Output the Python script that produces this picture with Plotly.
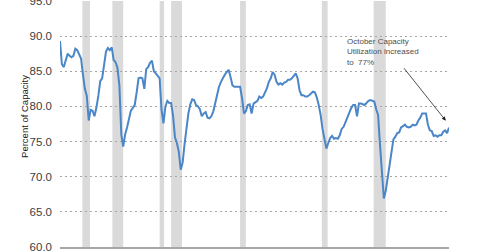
import pandas as pd
import plotly.graph_objects as go

# Quarterly readings (Jan, Apr, Jul, Oct) of capacity utilization, 1967 - Oct 2017
cu_1967_1976 = [
    89.3, 86.0, 85.6, 86.6,
    87.5, 87.2, 87.0, 87.2,
    88.2, 88.0, 87.5, 86.8,
    84.5, 82.5, 81.5, 78.0,
    79.5, 79.4, 78.6, 79.8,
    81.5, 83.6, 84.0, 86.0,
    87.8, 88.3, 88.0, 88.4,
    86.6, 86.3, 85.5, 83.0,
    76.0, 74.3, 76.0, 77.0,
    78.5, 79.4, 79.8, 80.2,
]
cu_1977_1986 = [
    82.0, 84.0, 84.1, 84.0,
    82.5, 85.3, 85.6, 86.2,
    86.5, 85.0, 84.7, 84.3,
    84.0, 79.5, 77.6, 80.0,
    80.8, 80.5, 80.5, 78.7,
    75.6, 74.8, 73.6, 71.0,
    72.0, 74.6, 77.3, 79.0,
    80.3, 81.0, 80.9, 80.2,
    80.0, 79.6, 78.6, 79.0,
    79.2, 78.4, 78.3, 78.6,
]
cu_1987_1996 = [
    79.3, 80.5, 81.6, 82.8,
    83.5, 84.1, 84.5, 84.9,
    85.2, 84.2, 83.0, 82.8,
    82.8, 82.9, 82.8, 81.2,
    79.0, 79.3, 80.2, 80.3,
    79.0, 80.4, 80.6, 80.8,
    81.4, 81.2, 81.4, 82.0,
    82.6, 83.5, 84.0, 84.9,
    84.5, 83.5, 83.1, 83.3,
    83.1, 83.4, 83.5, 83.8,
]
cu_1997_2006 = [
    83.8, 84.0, 84.3, 84.7,
    84.0, 82.3, 81.6, 81.6,
    81.4, 81.4, 81.6, 81.8,
    82.1, 82.0, 81.3, 80.2,
    78.8, 76.8, 75.4, 74.0,
    74.8, 75.5, 75.8, 75.4,
    75.5, 75.4, 75.9, 76.8,
    77.1, 77.8, 78.5, 79.0,
    79.8, 80.2, 80.2, 78.6,
    80.4, 80.4, 80.3, 80.2,
]
cu_2007_2017 = [
    80.5, 80.8, 80.9, 80.8,
    80.7, 79.6, 78.8, 74.5,
    70.3, 66.9, 68.0, 70.0,
    72.0, 74.0, 75.3, 75.7,
    76.2, 76.3, 77.0, 77.2,
    77.4, 77.1, 77.0, 77.1,
    77.4, 77.3, 77.4, 78.0,
    78.4, 79.0, 79.0, 79.0,
    77.4, 76.6, 76.5, 75.8,
    75.9, 75.7, 75.9, 75.9,
    76.4, 76.6, 76.2, 77.0,
]
capacity = cu_1967_1976 + cu_1977_1986 + cu_1987_1996 + cu_1997_2006 + cu_2007_2017
dates = pd.date_range("1967-01-01", "2017-10-01", freq="QS")
assert len(dates) == len(capacity)

# Recession periods (shaded)
rec_start = ["1969-12-01", "1973-11-01", "1980-01-01", "1981-07-01",
             "1990-07-01", "2001-03-01", "2007-12-01"]
rec_end = ["1970-12-01", "1975-04-01", "1980-08-01", "1982-12-01",
           "1991-04-01", "2001-12-01", "2009-07-01"]

y_ticks = [60, 65, 70, 75, 80, 85, 90, 95]

fig = go.Figure()
fig.add_trace(go.Scatter(
    x=dates, y=capacity, mode="lines",
    line=dict(color="#4A86C8", width=2),
    hoverinfo="skip", showlegend=False, cliponaxis=False,
))

for s, e in zip(rec_start, rec_end):
    fig.add_shape(type="rect", xref="x", yref="paper", x0=s, x1=e, y0=0, y1=1,
                  fillcolor="#DADADA", line=dict(width=0), layer="below")

fig.add_annotation(
    xref="paper", yref="paper", x=-0.111, y=0.53,
    text="Percent of Capacity", textangle=-90, showarrow=False,
    font=dict(family="Liberation Sans", size=9.5, color="#1a1a1a"),
)
fig.add_annotation(
    xref="paper", yref="paper", x=0.733, y=0.86, xanchor="left", yanchor="top",
    align="left", showarrow=False,
    text="October Capacity<br>Utilization increased<br>to  77%",
    font=dict(family="Liberation Sans", size=8, color="#4d4d4d"),
)
fig.add_annotation(
    xref="x", yref="y", x="2017-05-01", y=77.97, text="",
    showarrow=True, arrowhead=2, arrowsize=1, arrowwidth=0.8,
    arrowcolor="#222222", ax=-43, ay=-54,
)

fig.update_layout(
    width=480, height=251,
    margin=dict(l=60, r=31, t=1, b=4, autoexpand=False),
    paper_bgcolor="white", plot_bgcolor="white",
    font=dict(family="Liberation Sans", size=11, color="#404040"),
    xaxis=dict(
        type="date", range=["1967-01-01", "2017-10-01"],
        showgrid=False, showticklabels=False, ticks="",
        showline=True, linecolor="#A6A6A6", linewidth=1.5, zeroline=False,
        automargin=False,
    ),
    yaxis=dict(
        range=[60, 95], tickvals=y_ticks, tickformat=".1f",
        showgrid=True, gridcolor="#A6A6A6", griddash="2px,3px", gridwidth=1,
        showline=False, zeroline=False, ticks="", ticklabelstandoff=7,
        ticklabeloverflow="allow", automargin=False,
        tickfont=dict(family="Liberation Sans", size=11.5, color="#404040"),
    ),
)

fig.write_html("out.html")
